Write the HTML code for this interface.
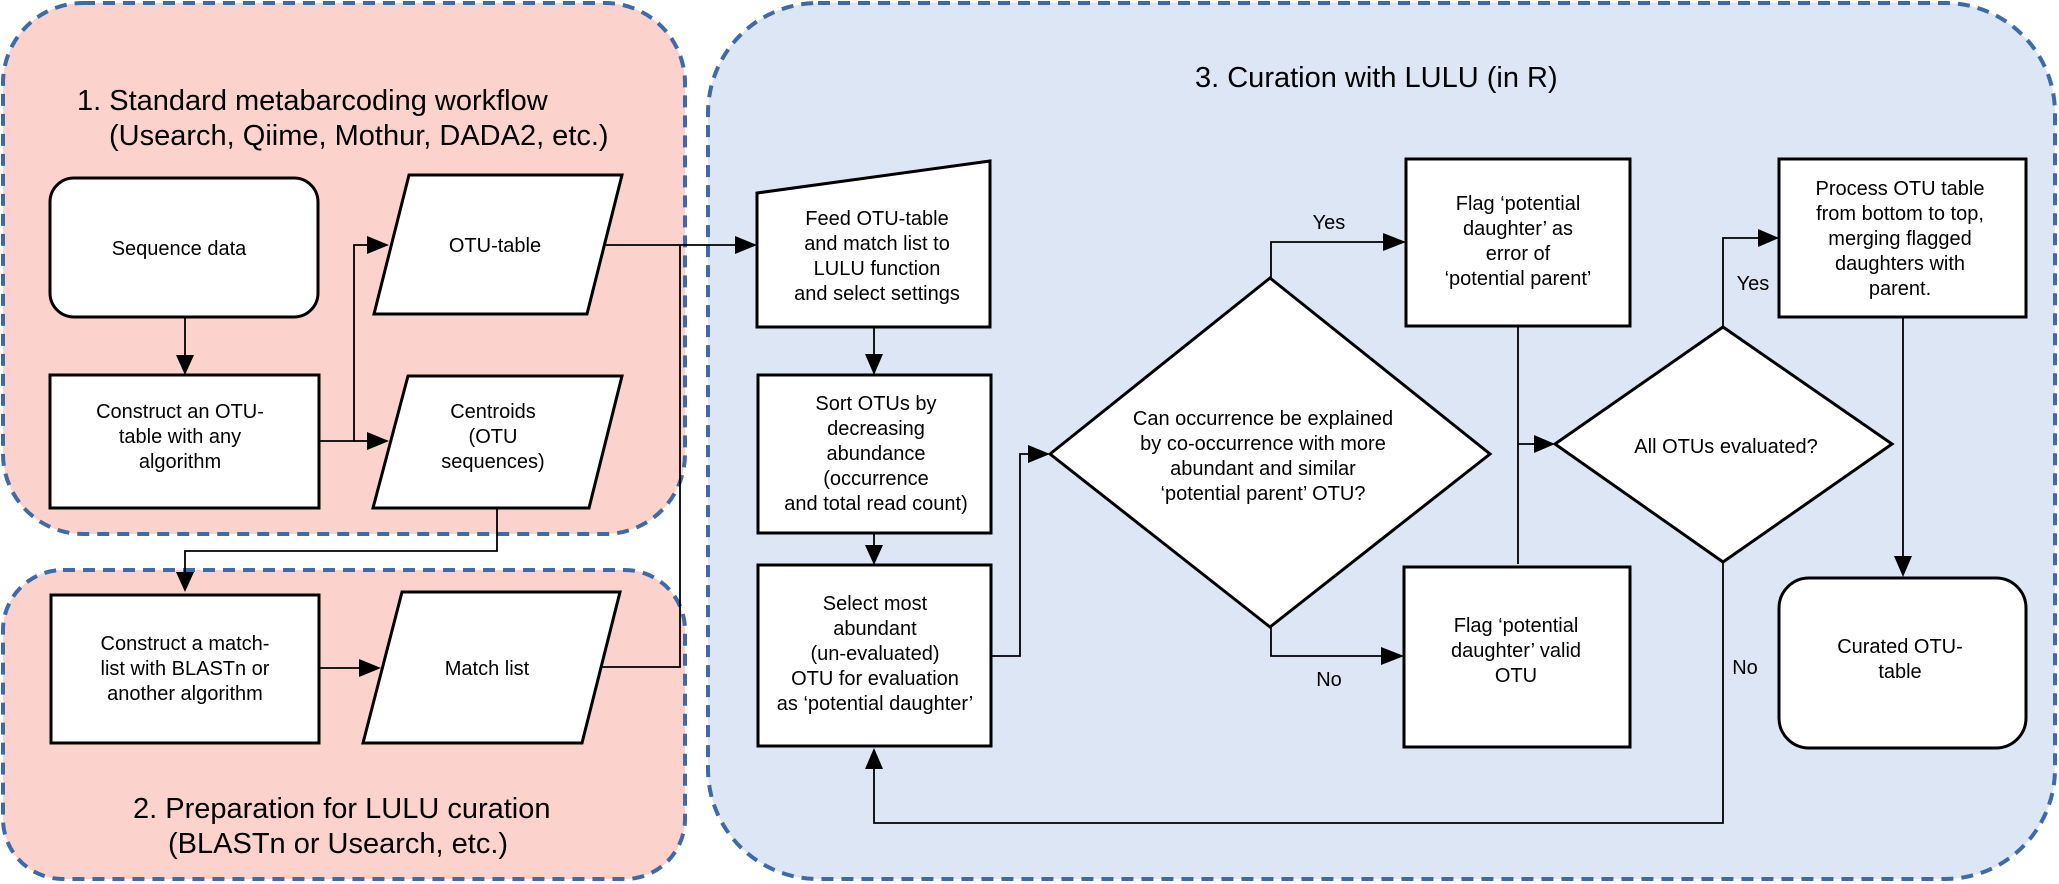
<!DOCTYPE html>
<html><head><meta charset="utf-8"><style>
html,body{margin:0;padding:0;background:#fff;}
svg{display:block;}
text{font-family:"Liberation Sans",Arial,sans-serif;fill:#000;}
.t{font-size:20px;text-anchor:middle;dominant-baseline:central;}
.h{font-size:29px;}
</style></head><body>
<svg width="2059" height="884" viewBox="0 0 2059 884" xmlns="http://www.w3.org/2000/svg">
<!-- group backgrounds -->
<rect x="3" y="3" width="682" height="531" rx="80" fill="#fbd3cc" stroke="#3e6aa8" stroke-width="4" stroke-dasharray="12 8"/>
<rect x="3" y="570" width="682" height="309" rx="60" fill="#fbd3cc" stroke="#3e6aa8" stroke-width="4" stroke-dasharray="12 8"/>
<rect x="708" y="3" width="1347" height="876" rx="110" fill="#dce6f4" stroke="#3e6aa8" stroke-width="4" stroke-dasharray="12 8"/>

<!-- titles -->
<text class="h" x="77" y="110">1. Standard metabarcoding workflow</text>
<text class="h" x="109" y="145">(Usearch, Qiime, Mothur, DADA2, etc.)</text>
<text class="h" x="133" y="818">2. Preparation for LULU curation</text>
<text class="h" x="168" y="853">(BLASTn or Usearch, etc.)</text>
<text class="h" x="1195" y="87">3. Curation with LULU (in R)</text>

<!-- connectors -->
<g fill="none" stroke="#000" stroke-width="1.8">
<line x1="185" y1="317" x2="185" y2="356"/>
<polyline points="319,441 354,441 354,245 370,245"/>
<line x1="354" y1="441" x2="370" y2="441"/>
<polyline points="605,245 680,245 680,667 601,667"/>
<line x1="680" y1="245" x2="738" y2="245"/>
<polyline points="497,508 497,551 185,551 185,574"/>
<line x1="319" y1="668" x2="363" y2="668"/>
<line x1="874" y1="327" x2="874" y2="356"/>
<line x1="874" y1="533" x2="874" y2="546"/>
<polyline points="991,656 1020,656 1020,454 1032,454"/>
<polyline points="1271,279 1271,242 1384,242"/>
<polyline points="1271,627 1271,656 1384,656"/>
<polyline points="1518,326 1518,564"/>
<line x1="1518" y1="444" x2="1537" y2="444"/>
<polyline points="1723,327 1723,238 1761,238"/>
<line x1="1903" y1="317" x2="1903" y2="558"/>
<polyline points="1723,562 1723,823 874,823 874,766"/>
</g>
<!-- arrowheads -->
<g fill="#000">
<polygon points="185,375 176,355 194,355"/>
<polygon points="389,245 367,236 367,254"/>
<polygon points="389,441 367,432 367,450"/>
<polygon points="757,245 735,236 735,254"/>
<polygon points="185,592 176,572 194,572"/>
<polygon points="381,668 359,659 359,677"/>
<polygon points="874,375 865,354 883,354"/>
<polygon points="874,565 865,545 883,545"/>
<polygon points="1050,454 1028,445 1028,463"/>
<polygon points="1406,242 1383,233 1383,251"/>
<polygon points="1404,656 1381,647 1381,665"/>
<polygon points="1555,444 1534,435 1534,453"/>
<polygon points="1779,238 1758,229 1758,247"/>
<polygon points="1903,577 1894,556 1912,556"/>
<polygon points="874,748 865,769 883,769"/>
</g>

<!-- shapes -->
<g fill="#fff" stroke="#000" stroke-width="3">
<rect x="50" y="178" width="268" height="139" rx="24"/>
<rect x="50" y="375" width="269" height="133"/>
<polygon points="409,175 622,175 587,314 374,314"/>
<polygon points="408,376 622,376 589,508 373,508"/>
<rect x="51" y="595" width="268" height="148"/>
<polygon points="402,592 620,592 582,743 363,743"/>
<polygon points="757,193 990,161 990,327 757,327"/>
<rect x="758" y="375" width="233" height="158"/>
<rect x="758" y="565" width="233" height="181"/>
<polygon points="1050,454 1270,278 1490,454 1270,627"/>
<rect x="1406" y="159" width="224" height="167"/>
<rect x="1404" y="567" width="226" height="180"/>
<polygon points="1555,444 1723,327 1892,444 1723,562"/>
<rect x="1779" y="159" width="247" height="158"/>
<rect x="1779" y="578" width="247" height="170" rx="30"/>
</g>

<!-- labels -->
<text class="t" x="179" y="249">Sequence data</text>
<text class="t" x="180" y="412">Construct an OTU-</text>
<text class="t" x="180" y="437">table with any</text>
<text class="t" x="180" y="462">algorithm</text>
<text class="t" x="495" y="246">OTU-table</text>
<text class="t" x="493" y="412">Centroids</text>
<text class="t" x="493" y="437">(OTU</text>
<text class="t" x="493" y="462">sequences)</text>
<text class="t" x="185" y="644">Construct a match-</text>
<text class="t" x="185" y="669">list with BLASTn  or</text>
<text class="t" x="185" y="694">another algorithm</text>
<text class="t" x="487" y="669">Match list</text>

<text class="t" x="877" y="219">Feed OTU-table</text>
<text class="t" x="877" y="244">and match list to</text>
<text class="t" x="877" y="269">LULU function</text>
<text class="t" x="877" y="294">and select settings</text>
<text class="t" x="876" y="404">Sort OTUs by</text>
<text class="t" x="876" y="429">decreasing</text>
<text class="t" x="876" y="454">abundance</text>
<text class="t" x="876" y="479">(occurrence</text>
<text class="t" x="876" y="504">and total read count)</text>
<text class="t" x="875" y="604">Select most</text>
<text class="t" x="875" y="629">abundant</text>
<text class="t" x="875" y="654">(un-evaluated)</text>
<text class="t" x="875" y="679">OTU for evaluation</text>
<text class="t" x="875" y="704">as ‘potential daughter’</text>

<text class="t" x="1263" y="419">Can occurrence be explained</text>
<text class="t" x="1263" y="444">by co-occurrence with more</text>
<text class="t" x="1263" y="469">abundant and similar</text>
<text class="t" x="1263" y="494">‘potential parent’ OTU?</text>
<text class="t" x="1329" y="223">Yes</text>
<text class="t" x="1329" y="680">No</text>

<text class="t" x="1518" y="204">Flag ‘potential</text>
<text class="t" x="1518" y="229">daughter’ as</text>
<text class="t" x="1518" y="254">error  of</text>
<text class="t" x="1518" y="279">‘potential parent’</text>
<text class="t" x="1516" y="626">Flag ‘potential</text>
<text class="t" x="1516" y="651">daughter’ valid</text>
<text class="t" x="1516" y="676">OTU</text>

<text class="t" x="1726" y="447">All OTUs evaluated?</text>
<text class="t" x="1753" y="284">Yes</text>
<text class="t" x="1745" y="668">No</text>

<text class="t" x="1900" y="189">Process OTU table</text>
<text class="t" x="1900" y="214">from bottom to top,</text>
<text class="t" x="1900" y="239">merging flagged</text>
<text class="t" x="1900" y="264">daughters with</text>
<text class="t" x="1900" y="289">parent.</text>
<text class="t" x="1900" y="647">Curated OTU-</text>
<text class="t" x="1900" y="672">table</text>
</svg>
</body></html>
